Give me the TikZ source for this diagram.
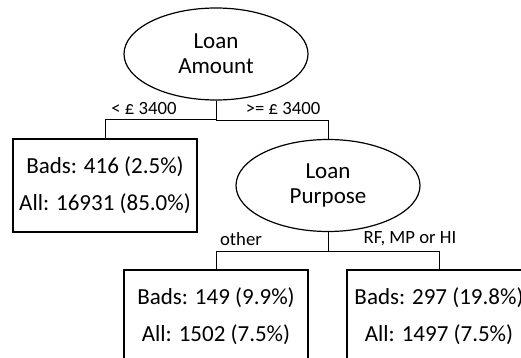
\documentclass[tikz,border=0pt]{standalone}
\usepackage{fontspec}
\setmainfont{Carlito}
\usetikzlibrary{shapes.geometric, calc, positioning}
\tikzset{
  split/.style    = {ellipse, draw, line width=1.2pt, inner sep=0pt,
                     minimum width=184pt, minimum height=92pt, align=center,
                     font=\fontsize{23}{25}\selectfont},
  leaf/.style     = {rectangle, draw, line width=1.2pt, inner sep=0pt,
                     minimum width=184pt, minimum height=93pt, align=center,
                     font=\fontsize{23}{37}\selectfont},
  branch/.style   = {line width=0.9pt,
                     to path={(\tikztostart) |- ($(\tikztostart)!0.5!(\tikztotarget)$)
                              -| (\tikztotarget)}},
  cond/.style     = {font=\fontsize{18.7}{20}\selectfont, inner sep=0pt},
}
\begin{document}
\begin{tikzpicture}[x=1pt, y=-1pt]
\useasboundingbox (0,0) rectangle (521,358);

% ---- first split: amount ---------------------------------------------------
\node[split] (amount) at (216,54) {Loan\\Amount};
\node[leaf]  (small)  at (105,185.5) {Bads: 416 (2.5\%)\\All: 16931 (85.0\%)};
\node[split] (purpose) at (328,185.5) {Loan\\Purpose};
\draw (amount.south) to[branch] (small.north);
\draw (amount.south) to[branch] (purpose.north);
\node[cond] (lowamt)  at (144,108) {< £ 3400};
\node[cond] (highamt) at (283,108) {>= £ 3400};

% ---- second split: purpose -------------------------------------------------
\node[leaf] (other) at (216,316.5) {Bads: 149 (9.9\%)\\All: 1502 (7.5\%)};
\node[leaf] (rfmphi) at (439,316.5) {Bads: 297 (19.8\%)\\All: 1497 (7.5\%)};
\draw (purpose.south) to[branch] (other.north);
\draw (purpose.south) to[branch] (rfmphi.north);
\node[cond] (otherlbl) at (241,239) {other};
\node[cond] (rfmphilbl) at (410,239) {RF, MP or HI};

\end{tikzpicture}
\end{document}
